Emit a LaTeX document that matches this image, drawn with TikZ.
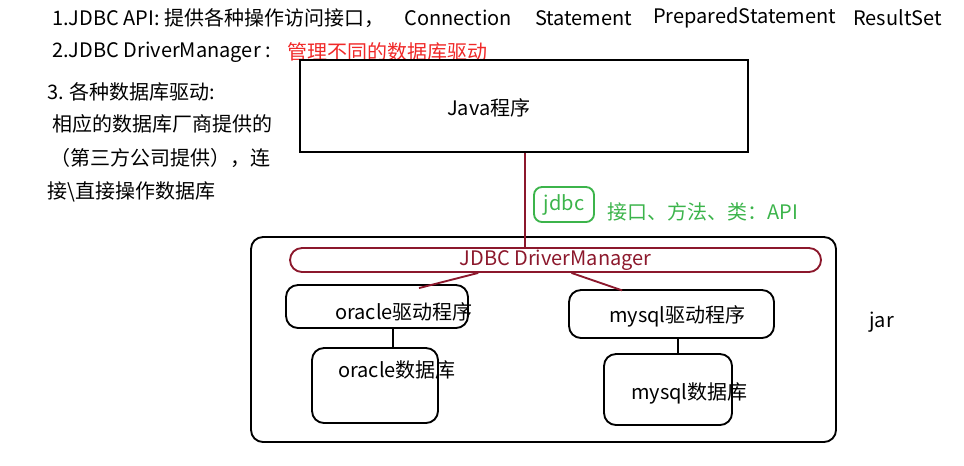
\documentclass[tikz,border=0pt]{standalone}
\usepackage{fontspec}
\setmainfont{Noto Sans CJK SC}
\usetikzlibrary{positioning}
\definecolor{drvred}{RGB}{140,24,44}
\definecolor{apigreen}{RGB}{60,180,75}
\definecolor{notered}{RGB}{240,40,40}
\tikzset{
  txt/.style={font=\fontsize{15}{18}\selectfont, inner sep=0pt, anchor=west},
  blkbox/.style={draw=black, line width=1.4pt, rounded corners=9pt, inner sep=0pt},
  redbox/.style={draw=drvred, line width=1.4pt, rounded corners=9pt, inner sep=0pt},
}
\begin{document}
\begin{tikzpicture}[x=0.75pt,y=-0.75pt]
\useasboundingbox (0,0) rectangle (964,465);

% notes on the left and at the top
\node[txt] (n1) at (52,18) {1.JDBC API: 提供各种操作访问接口，};
\node[txt] (n1a) at (404,18) {Connection};
\node[txt] (n1b) at (535,18) {Statement};
\node[txt] (n1c) at (653,18) {PreparedStatement};
\node[txt] (n1d) at (853,18) {ResultSet};
\node[txt] (n2) at (52,52) {2.JDBC DriverManager :};
\node[txt,text=notered] (n2a) at (287,52) {管理不同的数据库驱动};
\node[txt] (n3) at (47,92) {3. 各种数据库驱动:};
\node[txt] (n3a) at (52,124) {相应的数据库厂商提供的};
\node[txt] (n3b) at (50,158) {（第三方公司提供），连};
\node[txt] (n3c) at (47,192) {接\textbackslash 直接操作数据库};

% outer jar box
\node[blkbox, minimum width=438.75pt, minimum height=153.75pt] (jarbox) at (543.5,339.5) {};
\node[txt] (jar) at (869,322) {jar};

% java program
\node[draw=black, line width=1.5pt, minimum width=336pt, minimum height=69pt, inner sep=0pt] (java) at (524,106) {};
\node[txt] (javalbl) at (447,108) {Java程序};

% api interface
\node[draw=apigreen, line width=1.4pt, rounded corners=6pt, minimum width=45pt, minimum height=26.25pt, inner sep=0pt, text=apigreen, font=\fontsize{15}{18}\selectfont] (jdbc) at (564,204.5) {jdbc};
\node[txt,text=apigreen] (api) at (607,212) {接口、方法、类：API};

% driver manager
\node[redbox, minimum width=398.25pt, minimum height=18pt, text=drvred, font=\fontsize{15}{18}\selectfont] (dm) at (555.5,260) {JDBC DriverManager};
\draw[drvred, line width=1.4pt] (java.south -| 525,0) -- (dm.north -| 525,0);

% drivers and databases
\node[blkbox, minimum width=136.5pt, minimum height=32.25pt] (odrv) at (377,306.5) {};
\node[txt] (odrvlbl) at (335,312) {oracle驱动程序};
\node[blkbox, minimum width=94.5pt, minimum height=56.25pt] (odb) at (375,385.5) {};
\node[txt] (odblbl) at (338,370) {oracle数据库};
\node[blkbox, minimum width=153.75pt, minimum height=36pt] (mdrv) at (671.5,314) {};
\node[txt] (mdrvlbl) at (609,316) {mysql驱动程序};
\node[blkbox, minimum width=96pt, minimum height=53.25pt] (mdb) at (668,389.5) {};
\node[txt] (mdblbl) at (631,393) {mysql数据库};

\draw[drvred, line width=1.4pt] ([xshift=-58pt]dm.south) -- ([xshift=31.5pt,yshift=-3pt]odrv.north);
\draw[drvred, line width=1.4pt] ([xshift=12pt]dm.south) -- ([xshift=-37pt,yshift=-1pt]mdrv.north);
\draw[line width=1.4pt] ([xshift=12pt]odrv.south) -- ([xshift=12pt]odrv.south |- odb.north);
\draw[line width=1.4pt] ([xshift=5pt]mdrv.south) -- ([xshift=5pt]mdrv.south |- mdb.north);
\end{tikzpicture}
\end{document}
